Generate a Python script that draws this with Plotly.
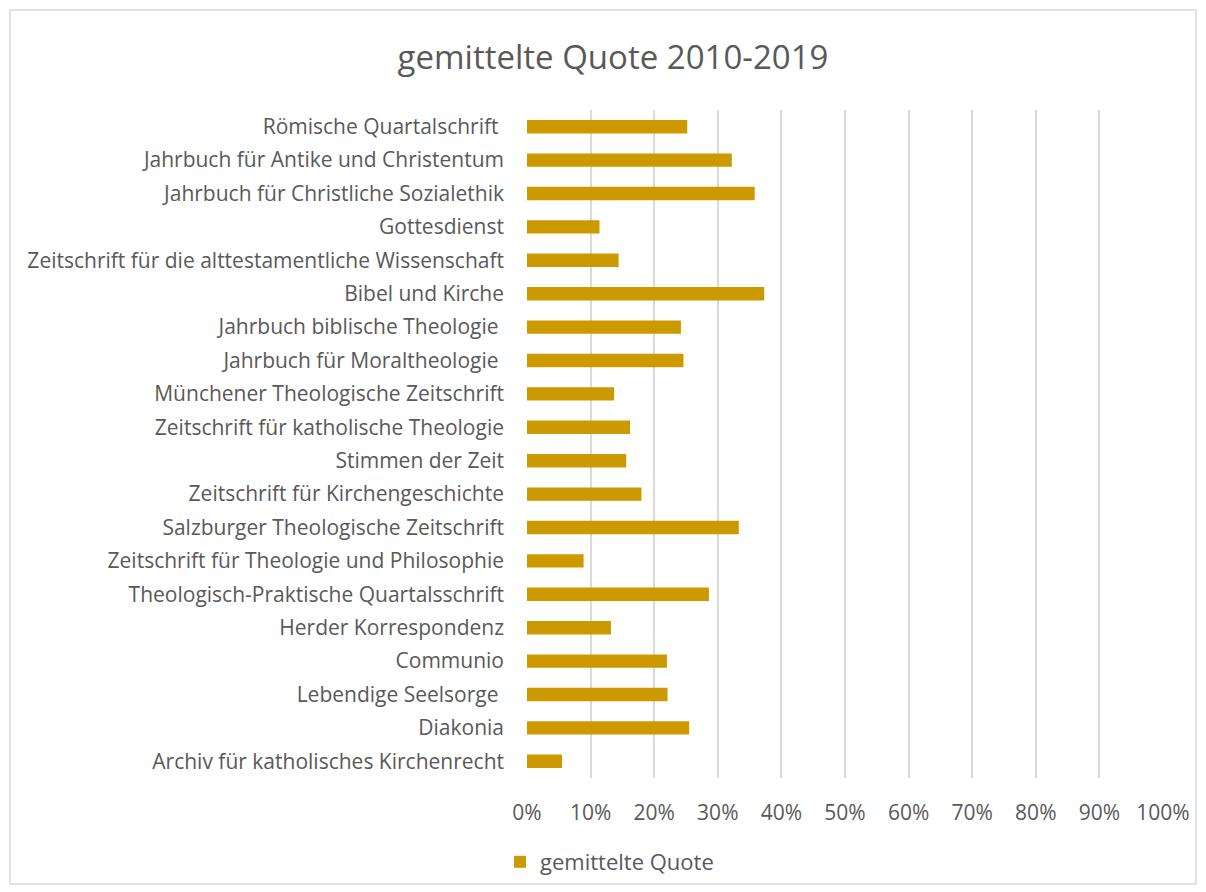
import plotly.graph_objects as go

categories = [
    "Römische Quartalschrift ",
    "Jahrbuch für Antike und Christentum",
    "Jahrbuch für Christliche Sozialethik",
    "Gottesdienst",
    "Zeitschrift für die alttestamentliche Wissenschaft",
    "Bibel und Kirche",
    "Jahrbuch biblische Theologie ",
    "Jahrbuch für Moraltheologie ",
    "Münchener Theologische Zeitschrift",
    "Zeitschrift für katholische Theologie",
    "Stimmen der Zeit",
    "Zeitschrift für Kirchengeschichte",
    "Salzburger Theologische Zeitschrift",
    "Zeitschrift für Theologie und Philosophie",
    "Theologisch-Praktische Quartalsschrift",
    "Herder Korrespondenz",
    "Communio",
    "Lebendige Seelsorge ",
    "Diakonia",
    "Archiv für katholisches Kirchenrecht",
]
values = [0.252, 0.322, 0.358, 0.114, 0.144, 0.373, 0.242, 0.246, 0.137, 0.162,
          0.156, 0.180, 0.333, 0.089, 0.286, 0.132, 0.220, 0.221, 0.255, 0.055]
tick_vals = [i / 10 for i in range(11)]
tick_text = [f"{i*10}%" for i in range(11)]
series_name = "gemittelte Quote"
title_text = "gemittelte Quote 2010-2019"

FONT = "Open Sans, sans-serif"
GREY = "#595959"

fig = go.Figure(go.Bar(
    y=categories, x=values, orientation="h", name=series_name,
    marker=dict(color="#CC9900", line=dict(width=0)),
    showlegend=True,
))

W, H = 1206, 892
L, R, T, B = 527, 1163, 110, 778

fig.update_layout(
    width=W, height=H,
    margin=dict(l=L, r=W - R, t=T, b=H - B, autoexpand=False),
    paper_bgcolor="white", plot_bgcolor="white",
    bargap=0.6,
    font=dict(family=FONT, size=21, color=GREY),
    title=dict(text=title_text, x=613 / W, xref="container", xanchor="center",
               y=1 - 57 / H, yref="container", yanchor="middle",
               font=dict(size=33, color=GREY, family=FONT)),
    showlegend=True,
    legend=dict(orientation="h", x=(500 - L) / (R - L), xanchor="left",
                y=-(862 - B) / (B - T), yanchor="middle",
                font=dict(size=22, color=GREY, family=FONT),
                bgcolor="rgba(0,0,0,0)"),
    xaxis=dict(range=[0, 1], tickvals=tick_vals, ticktext=tick_text,
               showgrid=True, gridcolor="#D9D9D9", gridwidth=1.5,
               zeroline=False, showline=False, ticks="",
               ticklabelstandoff=20, fixedrange=True,
               tickfont=dict(size=21, color=GREY, family=FONT)),
    yaxis=dict(autorange="reversed", showgrid=False, zeroline=False,
               showline=False, ticks="", ticklabelstandoff=22,
               tickfont=dict(size=21, color=GREY, family=FONT)),
    shapes=[dict(type="rect", xref="paper", yref="paper",
                 x0=(10 - L) / (R - L), x1=(1196 - L) / (R - L),
                 y0=-(884 - B) / (B - T), y1=1 + (T - 10) / (B - T),
                 line=dict(color="#D9D9D9", width=1.5), layer="below")],
)

fig.write_html("out.html")
